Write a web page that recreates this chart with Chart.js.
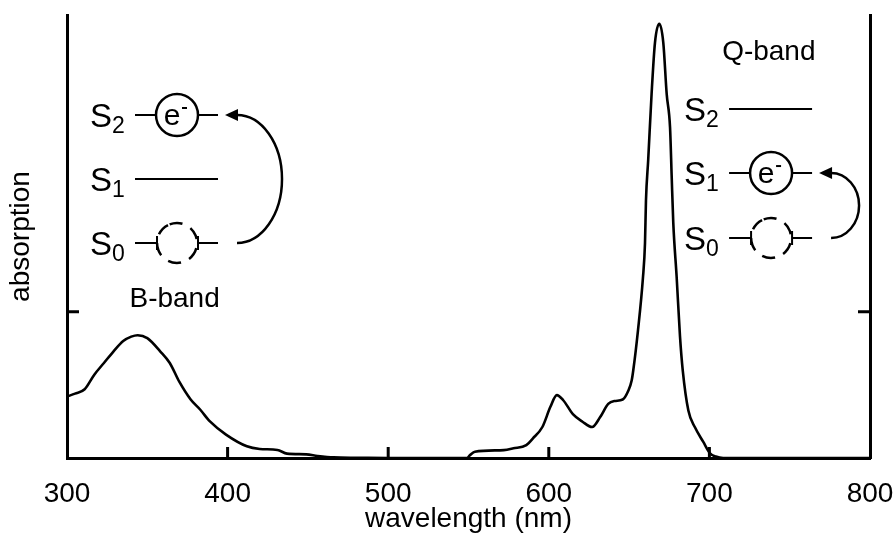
<!DOCTYPE html>
<html>
<head>
<meta charset="utf-8">
<title>absorption spectrum</title>
<script src="https://cdn.jsdelivr.net/npm/chart.js@4.4.0/dist/chart.umd.min.js"></script>
<style>
    html, body { margin: 0; padding: 0; background: #fff; }
    #container { width: 896px; height: 536px; }
</style>
</head>
<body>
<div id="container"><canvas id="chartCanvas"></canvas></div>
<script>
const wavelengths = [300, 305, 311, 317, 323, 329, 335, 340, 344, 350, 358, 364, 370, 377, 383, 389, 399, 412, 420, 431, 437, 449, 456, 466, 480, 500,
    549, 551, 554, 572, 578, 586, 590, 596, 601, 605, 609, 615, 621, 627, 632, 637, 641, 646, 649.5, 651.6, 652.6, 655.5, 658.6, 659.9, 660.5, 661.9, 664, 666.1, 668.8,
    671.3, 673.4, 675.5, 676.5, 677.5, 679.6, 681.7, 683.4, 686.9, 691, 696.2, 700.4, 704, 708.6, 750, 800];
const absorbance = [0.42, 0.44, 0.47, 0.57, 0.65, 0.73, 0.80, 0.83, 0.84, 0.82, 0.73, 0.65, 0.52, 0.40, 0.33, 0.25, 0.16, 0.08, 0.062, 0.055, 0.03, 0.025, 0.014, 0.004, 0.002, 0,
    0, 0.02, 0.043, 0.054, 0.066, 0.088, 0.133, 0.212, 0.35, 0.43, 0.395, 0.30, 0.248, 0.212, 0.28, 0.37, 0.39, 0.40, 0.46, 0.53, 0.60, 0.87, 1.23, 1.47, 1.76, 2.04, 2.49, 2.84, 2.97,
    2.84, 2.49, 2.26, 1.93, 1.61, 1.24, 0.83, 0.60, 0.325, 0.21, 0.11, 0.032, 0.01, 0, 0, 0];

const x_ticks = [300, 400, 500, 600, 700, 800];
const y_ticks = [1];
const x_title = 'wavelength (nm)';
const y_title = 'absorption';

// band names, anchored in data units
const band_names = ['B-band', 'Q-band'];
const band_x = [367, 737];
const band_y = [1.03, 2.72];

// energy level schemes: S2, S1, S0 from top to bottom
const level_subs = ['2', '1', '0'];
const scheme_x = [368.5, 738.4];
const scheme_levels = [[2.346, 1.908, 1.471], [2.387, 1.949, 1.505]];
const scheme_excited = [0, 1];
const arc_width = [45, 28];

const font_family = '"Liberation Sans", Arial, Helvetica, sans-serif';
const font_size = 28;
const line_width = 3;

const inner_ticks = {
    id: 'inner_ticks',
    afterDraw(chart) {
        const ctx = chart.ctx;
        const area = chart.chartArea;
        const xs = chart.scales.x;
        const ys = chart.scales.y;
        ctx.save();
        ctx.strokeStyle = '#000';
        ctx.lineWidth = line_width;
        ctx.beginPath();
        x_ticks.forEach(v => {
            if (v <= xs.min || v >= xs.max) return;
            const px = xs.getPixelForValue(v);
            ctx.moveTo(px, area.bottom);
            ctx.lineTo(px, area.bottom - 11);
        });
        y_ticks.forEach(v => {
            const py = ys.getPixelForValue(v);
            ctx.moveTo(area.left, py);
            ctx.lineTo(area.left + 12, py);
            ctx.moveTo(area.right, py);
            ctx.lineTo(area.right - 12, py);
        });
        ctx.stroke();
        ctx.restore();
    }
};

const schemes = {
    id: 'schemes',
    afterDraw(chart) {
        const ctx = chart.ctx;
        const xs = chart.scales.x;
        const ys = chart.scales.y;
        ctx.save();
        ctx.fillStyle = '#000';
        ctx.strokeStyle = '#000';
        ctx.textBaseline = 'alphabetic';

        band_names.forEach((name, i) => {
            ctx.font = font_size + 'px ' + font_family;
            ctx.textAlign = 'center';
            ctx.fillText(name, xs.getPixelForValue(band_x[i]), ys.getPixelForValue(band_y[i]));
        });

        scheme_x.forEach((wx, d) => {
            const cx = xs.getPixelForValue(wx);
            const lys = scheme_levels[d].map(v => ys.getPixelForValue(v));
            lys.forEach((ly, i) => {
                ctx.textAlign = 'left';
                ctx.font = '33px ' + font_family;
                ctx.fillText('S', cx - 87, ly + 12);
                ctx.font = '23px ' + font_family;
                ctx.fillText(level_subs[i], cx - 65, ly + 18);

                ctx.lineWidth = 2;
                ctx.setLineDash([]);
                ctx.beginPath();
                if (i === scheme_excited[d]) {
                    ctx.moveTo(cx - 42, ly); ctx.lineTo(cx - 21, ly);
                    ctx.moveTo(cx + 21, ly); ctx.lineTo(cx + 41, ly);
                    ctx.stroke();
                    ctx.lineWidth = 2.5;
                    ctx.beginPath();
                    ctx.arc(cx, ly, 21, 0, Math.PI * 2);
                    ctx.stroke();
                    ctx.font = '30px ' + font_family;
                    ctx.textAlign = 'center';
                    ctx.fillText('e', cx - 5, ly + 10);
                    ctx.lineWidth = 2;
                    ctx.beginPath();
                    ctx.moveTo(cx + 5, ly - 7); ctx.lineTo(cx + 10, ly - 7);
                    ctx.stroke();
                } else if (i === lys.length - 1) {
                    ctx.moveTo(cx - 42, ly); ctx.lineTo(cx - 20, ly);
                    ctx.moveTo(cx - 20, ly - 7); ctx.lineTo(cx - 20, ly + 7);
                    ctx.moveTo(cx + 21, ly - 7); ctx.lineTo(cx + 21, ly + 7);
                    ctx.moveTo(cx + 21, ly); ctx.lineTo(cx + 41, ly);
                    ctx.stroke();
                    ctx.lineWidth = 2.5;
                    ctx.setLineDash([13, 9]);
                    ctx.beginPath();
                    ctx.arc(cx, ly, 20, -Math.PI * 0.62, Math.PI * 1.38);
                    ctx.stroke();
                    ctx.setLineDash([]);
                } else {
                    ctx.moveTo(cx - 42, ly); ctx.lineTo(cx + 41, ly);
                    ctx.stroke();
                }
            });

            // curved arrow from S0 up to the excited level
            const y_top = lys[scheme_excited[d]];
            const y_bot = lys[lys.length - 1];
            const ax = cx + 60;
            ctx.lineWidth = 2.5;
            ctx.beginPath();
            ctx.ellipse(ax, (y_top + y_bot) / 2, arc_width[d], (y_bot - y_top) / 2, 0, Math.PI / 2, -Math.PI / 2, true);
            ctx.stroke();
            ctx.beginPath();
            ctx.moveTo(cx + 48, y_top);
            ctx.lineTo(ax + 1, y_top - 6);
            ctx.lineTo(ax + 1, y_top + 6);
            ctx.closePath();
            ctx.fill();
        });
        ctx.restore();
    }
};

const config = {
    type: 'line',
    data: {
        datasets: [{
            data: wavelengths.map((w, i) => ({ x: w, y: absorbance[i] })),
            borderColor: '#000',
            borderWidth: 2.6,
            pointRadius: 0,
            fill: false,
            cubicInterpolationMode: 'monotone'
        }]
    },
    options: {
        responsive: true,
        maintainAspectRatio: false,
        animation: false,
        layout: { padding: { top: 15, left: 0, right: 0, bottom: 0 } },
        plugins: { legend: { display: false }, tooltip: { enabled: false } },
        scales: {
            x: {
                type: 'linear',
                position: 'bottom',
                min: 300,
                max: 800,
                afterBuildTicks: s => { s.ticks = x_ticks.map(v => ({ value: v })); },
                afterFit: s => { s.height = 78; s.paddingLeft = 0; s.paddingRight = 0; },
                grid: { display: false, drawTicks: false },
                border: { display: true, width: line_width, color: '#000' },
                ticks: {
                    color: '#000',
                    padding: 19,
                    maxRotation: 0,
                    font: { family: font_family, size: font_size }
                },
                title: {
                    display: true,
                    text: x_title,
                    color: '#000',
                    padding: { top: 0, bottom: 0 },
                    font: { family: font_family, size: font_size }
                }
            },
            y: {
                type: 'linear',
                position: 'left',
                min: 0,
                max: 3.03,
                afterBuildTicks: s => { s.ticks = y_ticks.map(v => ({ value: v })); },
                afterFit: s => { s.width = 67; s.paddingTop = 0; s.paddingBottom = 0; },
                grid: { display: false, drawTicks: false },
                border: { display: true, width: line_width, color: '#000' },
                ticks: { display: false },
                title: {
                    display: true,
                    text: y_title,
                    color: '#000',
                    padding: { top: 4, bottom: 0 },
                    font: { family: font_family, size: font_size }
                }
            },
            y2: {
                type: 'linear',
                position: 'right',
                min: 0,
                max: 3.03,
                afterFit: s => { s.width = 26; s.paddingTop = 0; s.paddingBottom = 0; },
                grid: { display: false, drawTicks: false },
                border: { display: true, width: line_width, color: '#000' },
                ticks: { display: false }
            }
        }
    },
    plugins: [inner_ticks, schemes]
};

const chart = new Chart(document.getElementById('chartCanvas'), config);
</script>
</body>
</html>
